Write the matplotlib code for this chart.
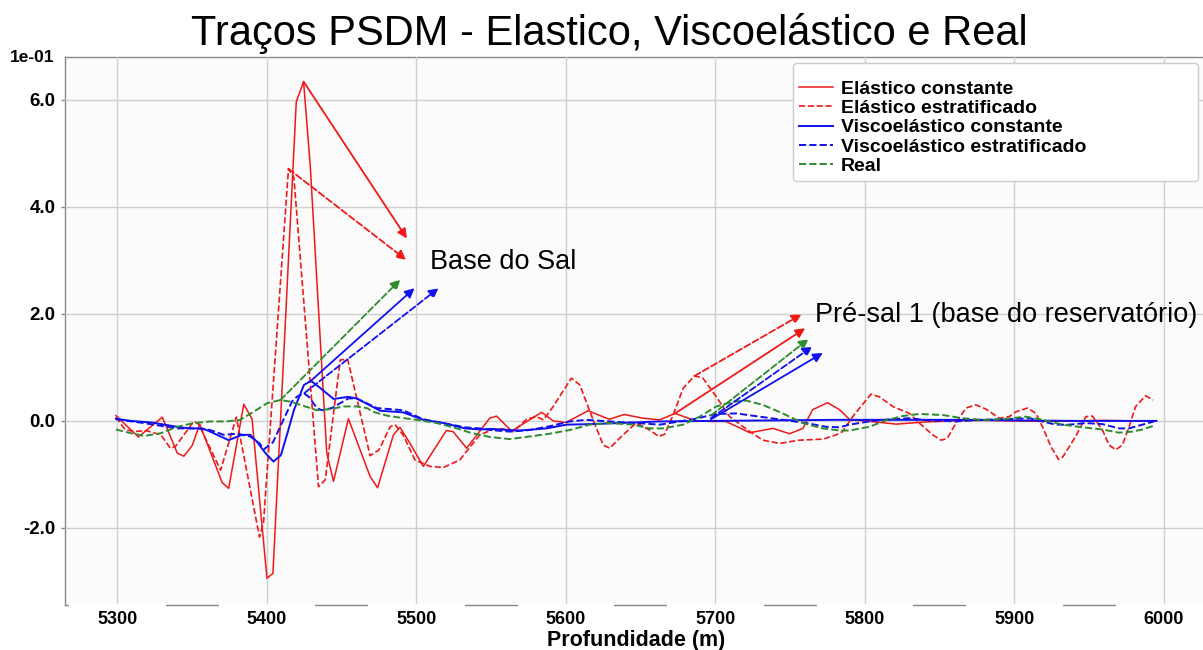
import matplotlib
matplotlib.use("Agg")
import matplotlib.pyplot as plt
from matplotlib.path import Path

plt.rcParams['font.family'] = ['Liberation Sans', 'DejaVu Sans']

# ---- traces (amplitude in units of 1e-01) ----
ec_x = [5299, 5314, 5330, 5340, 5344.4, 5350, 5355, 5370, 5374.4, 5384.5, 5390, 5400, 5404,
        5419.6, 5424.5, 5429, 5440, 5444.5, 5454.5, 5469, 5474, 5484.6, 5489, 5495.7, 5504.6,
        5520, 5524.5, 5533.6, 5549, 5553.6, 5563.6, 5583.7, 5591.5, 5600, 5614.8, 5629, 5639,
        5651.6, 5662.7, 5673, 5687, 5698, 5707, 5723, 5738.5, 5749.6, 5758.5, 5765, 5775, 5783,
        5790, 5800, 5821, 5840, 5860, 5880, 5900, 5920, 5940, 5960, 5980, 5995]
ec_y = [0.10, -0.30, 0.07, -0.60, -0.66, -0.46, -0.06, -1.15, -1.26, 0.31, 0.04, -2.94, -2.85,
        5.96, 6.34, 4.75, -0.60, -1.13, 0.04, -1.04, -1.25, -0.26, -0.12, -0.42, -0.85,
        -0.18, -0.20, -0.51, 0.05, 0.09, -0.19, 0.16, 0.00, -0.03, 0.19, 0.03, 0.12,
        0.05, 0.02, 0.14, 0.00, -0.01, -0.01, -0.22, -0.14, -0.24, -0.14, 0.21, 0.34, 0.21,
        0.02, 0.00, -0.06, -0.02, 0.00, 0.01, 0.00, -0.01, 0.00, 0.01, 0.00, 0.00]

ee_x = [5299, 5305, 5311, 5319, 5329, 5335.4, 5338.7, 5351, 5354.3, 5369, 5379.5, 5393, 5395,
        5397.7, 5414.4, 5418, 5434.5, 5439, 5449, 5454, 5469, 5475, 5482.4, 5485.7, 5491, 5499,
        5509, 5518, 5529, 5536, 5542.5, 5552, 5558, 5565, 5573.6, 5580, 5585, 5591.5, 5603.7,
        5609.3, 5618.2, 5624.9, 5629.3, 5638.2, 5647, 5656, 5662, 5666, 5671.7, 5678.4, 5686,
        5691.6, 5700.6, 5709.5, 5723, 5731.7, 5743, 5756, 5772, 5780.8, 5785, 5791.8, 5804,
        5809.7, 5818.6, 5829.7, 5836.4, 5845.3, 5850.9, 5855, 5860.9, 5867.6, 5874.2, 5881,
        5890, 5896.5, 5901, 5908.8, 5914.4, 5918.8, 5924.4, 5929.5, 5932.2, 5941, 5947.8,
        5952.2, 5958.9, 5963.3, 5967.8, 5972.2, 5976.7, 5981.1, 5987.8, 5992.7]
ee_y = [0.07, -0.16, -0.20, -0.18, -0.26, -0.51, -0.48, -0.01, -0.06, -0.92, 0.07, -1.88, -2.17,
        -1.90, 4.71, 4.55, -1.23, -1.10, 1.14, 1.15, -0.65, -0.54, -0.11, -0.07, -0.26, -0.73,
        -0.85, -0.87, -0.73, -0.48, -0.26, -0.15, -0.15, -0.20, 0.03, 0.08, 0.02, 0.27, 0.80,
        0.67, 0.02, -0.45, -0.51, -0.26, -0.04, -0.17, -0.29, -0.25, 0.11, 0.61, 0.84,
        0.80, 0.45, 0.08, -0.20, -0.36, -0.42, -0.36, -0.34, -0.26, -0.20, 0.08, 0.50,
        0.45, 0.27, 0.14, -0.04, -0.26, -0.36, -0.33, -0.04, 0.24, 0.30, 0.22,
        0.05, 0.08, 0.17, 0.24, 0.14, -0.11, -0.48, -0.72, -0.68, -0.29, 0.08,
        0.09, -0.17, -0.45, -0.54, -0.45, -0.11, 0.27, 0.47, 0.39]

vc_x = [5299, 5309, 5323, 5342, 5349, 5357, 5362, 5374.4, 5383.3, 5388.8, 5393.3, 5398.9, 5404.4,
        5409.3, 5414, 5418, 5424.7, 5429.4, 5434.5, 5444.6, 5454.5, 5460, 5475.7, 5491, 5504.6,
        5518, 5532.5, 5542.5, 5549, 5569, 5587, 5600.4, 5616, 5636, 5662.7, 5700, 5740, 5780,
        5820, 5860, 5900, 5940, 5995]
vc_y = [0.04, 0.00, -0.03, -0.12, -0.14, -0.14, -0.20, -0.36, -0.26, -0.26, -0.39, -0.60, -0.76,
        -0.64, -0.20, 0.20, 0.67, 0.75, 0.64, 0.41, 0.45, 0.42, 0.19, 0.16, 0.02,
        -0.04, -0.14, -0.16, -0.15, -0.18, -0.14, -0.07, -0.06, -0.04, -0.01, 0.00, 0.01, 0.02,
        0.02, 0.02, 0.01, 0.00, 0.00]

ve_x = [5299, 5317.6, 5328.7, 5340, 5353, 5362, 5371, 5380, 5388.8, 5395, 5398, 5404, 5411,
        5416.7, 5420, 5424.5, 5428, 5433.4, 5436.7, 5443.4, 5454.5, 5460, 5473.5, 5491, 5504.6,
        5518, 5532.5, 5542.5, 5549, 5562.5, 5576, 5589, 5602.6, 5613.8, 5629, 5647, 5662.7,
        5669.4, 5685, 5700.6, 5714, 5729.5, 5745, 5760.7, 5774, 5783, 5789.6, 5803, 5816.4,
        5829.7, 5843, 5861, 5876.6, 5892, 5910, 5918.8, 5927.7, 5936.6, 5947.8, 5958.9, 5970,
        5976.7, 5985.6, 5993.4]
ve_y = [0.03, -0.04, -0.09, -0.14, -0.14, -0.17, -0.26, -0.24, -0.29, -0.42, -0.53, -0.40, 0.02,
        0.36, 0.45, 0.52, 0.45, 0.24, 0.20, 0.24, 0.42, 0.42, 0.24, 0.20, 0.03,
        -0.04, -0.12, -0.14, -0.17, -0.20, -0.17, -0.10, -0.01, 0.02, -0.01, -0.04, -0.07,
        -0.04, 0.03, 0.13, 0.14, 0.08, 0.02, -0.04, -0.11, -0.12, -0.07, -0.01, 0.03,
        0.05, 0.01, -0.01, 0.02, 0.03, 0.05, -0.01, -0.07, -0.07, -0.04, -0.06, -0.14,
        -0.14, -0.07, -0.01]

re_x = [5299, 5309, 5318, 5329, 5340, 5351, 5362, 5373, 5382, 5391, 5400, 5409, 5415.6, 5424.5,
        5433.4, 5442.3, 5451.2, 5460, 5466.8, 5471, 5480, 5486.8, 5500, 5513.6, 5527, 5536,
        5549, 5562.5, 5576, 5589, 5602.6, 5616, 5629, 5645, 5656, 5665, 5678.4, 5689.5, 5700.6,
        5711.7, 5720.6, 5731.7, 5745, 5758.5, 5771.8, 5783, 5789.6, 5803, 5814, 5825, 5836.4,
        5852, 5865.3, 5878.7, 5892, 5907.6, 5918.8, 5932.2, 5945.6, 5958.9, 5970, 5979, 5985.6,
        5993.4]
re_y = [-0.16, -0.23, -0.28, -0.23, -0.11, -0.04, -0.01, -0.01, 0.02, 0.17, 0.33, 0.39, 0.36, 0.28,
        0.20, 0.22, 0.27, 0.27, 0.24, 0.17, 0.10, 0.07, 0.02, -0.04, -0.14, -0.22,
        -0.30, -0.34, -0.29, -0.24, -0.17, -0.07, -0.04, -0.07, -0.14, -0.14, -0.07, 0.08, 0.27,
        0.36, 0.38, 0.30, 0.14, -0.04, -0.14, -0.18, -0.18, -0.11, 0.01, 0.09, 0.13,
        0.11, 0.05, 0.02, 0.03, 0.08, 0.02, -0.07, -0.12, -0.16, -0.22, -0.20, -0.16,
        -0.09]

series_labels = ['Elástico constante', 'Elástico estratificado', 'Viscoelástico constante',
                 'Viscoelástico estratificado', 'Real']

x_ticks = [5300, 5400, 5500, 5600, 5700, 5800, 5900, 6000]
x_tick_labels = ['5300', '5400', '5500', '5600', '5700', '5800', '5900', '6000']
y_ticks = [-2.0, 0.0, 2.0, 4.0, 6.0]
y_tick_labels = ['-2.0', '0.0', '2.0', '4.0', '6.0']

# annotation arrows: (start x, start y) -> (tip x, tip y)
sal_arrows = [
    ((5424.5, 6.34), (5493.6, 3.41)),
    ((5414.4, 4.71), (5493.1, 3.01)),
    ((5409.0, 0.39), (5489.2, 2.64)),
    ((5429.4, 0.75), (5498.7, 2.48)),
    ((5425.0, 0.52), (5514.8, 2.48)),
]
presal_arrows = [
    ((5673.0, 0.14), (5760.0, 1.73)),
    ((5686.0, 0.84), (5757.6, 1.99)),
    ((5697.0, 0.10), (5762.3, 1.53)),
    ((5697.0, 0.03), (5771.8, 1.27)),
    ((5697.0, 0.05), (5764.8, 1.39)),
]

RED = '#f01818'
BLUE = '#1010f0'
GREEN = '#2e8b2e'
styles = [(RED, '-', 1.1), (RED, '--', 1.2), (BLUE, '-', 1.4), (BLUE, '--', 1.4), (GREEN, '--', 1.4)]

fig = plt.figure(figsize=(12.03, 6.5), dpi=100)
W, H = 1203.0, 650.0
ax = fig.add_axes([65 / W, 45 / H, (1208 - 65) / W, (605 - 57) / H])
ax.set_facecolor('#fbfbfb')

xs = [ec_x, ee_x, vc_x, ve_x, re_x]
ys = [ec_y, ee_y, vc_y, ve_y, re_y]
for x, y, lab, (c, ls, lw) in zip(xs, ys, series_labels, styles):
    ax.plot(x, y, color=c, ls=ls, lw=lw, label=lab)

arrow_styles = [(RED, '-'), (RED, '--'), (GREEN, '--'), (BLUE, '-'), (BLUE, '--')]
for group in (sal_arrows, presal_arrows):
    for (start, tip), (c, ls) in zip(group, arrow_styles):
        ax.annotate('', xy=tip, xytext=start,
                    arrowprops=dict(arrowstyle='-|>', color=c, lw=1.3, ls=ls,
                                    shrinkA=0, shrinkB=0, mutation_scale=14))

ax.text(5509, 2.97, 'Base do Sal', fontsize=19.5, va='center', ha='left')
ax.text(5766.5, 1.98, 'Pré-sal 1 (base do reservatório)', fontsize=19.5, va='center', ha='left')

ax.set_xlim(5264.9, 6029.5)
ax.set_ylim(-3.44, 6.80)

ax.set_axisbelow(True)
ax.grid(True, color='#cfcfcf', lw=1.0)
for s in ['left', 'bottom', 'top']:
    ax.spines[s].set_color('#888888')
    ax.spines[s].set_linewidth(1.0)
    ax.spines[s].set_zorder(0.4)
ax.spines['right'].set_visible(False)


def wide_box(x0, y0, width, height, mutation_size):
    # white backing that is wider than tall, so the axis line shows only between labels
    px = 1.55 * mutation_size
    py = 0.35 * mutation_size
    x0, y0 = x0 - px, y0 - py
    x1, y1 = x0 + width + 2 * px, y0 + height + 2 * py
    return Path([(x0, y0), (x1, y0), (x1, y1), (x0, y1), (x0, y0)], closed=True)


ax.set_xticks(x_ticks, labels=x_tick_labels)
ax.set_yticks(y_ticks, labels=y_tick_labels)
ax.tick_params(axis='x', length=0, pad=4, labelsize=13)
ax.tick_params(axis='y', length=3, width=1, color='#888888', pad=4, labelsize=13.5)
for t in ax.get_xticklabels():
    t.set_fontweight('bold')
    t.set_bbox(dict(boxstyle=wide_box, facecolor='white', edgecolor='none'))
for t in ax.get_yticklabels():
    t.set_fontweight('bold')

ax.set_xlabel('Profundidade (m)', fontsize=15.5, fontweight='bold', labelpad=2)

fig.text(10 / W, 1 - 58 / H, '1e-01', fontsize=12.5, fontweight='bold', va='center', ha='left')
fig.text(609 / W, 1 - 33 / H, 'Traços PSDM - Elastico, Viscoelástico e Real', fontsize=30,
         ha='center', va='center')

# legend box spans a fixed strip in the upper right corner
leg_left = (793 - 65) / 1143
leg_width = (1198 - 793) / 1143
leg_top = (605 - 63) / 548
leg = ax.legend(loc='upper left', bbox_to_anchor=(leg_left, 0.5, leg_width, leg_top - 0.5),
                mode='expand', prop={'weight': 'bold', 'size': 14},
                title=' ', title_fontsize=7,
                labelspacing=0.08, handlelength=1.75, handletextpad=0.4, borderpad=0.3,
                borderaxespad=0.0, fancybox=True, framealpha=1.0, edgecolor='#cccccc')

fig.savefig('out.png', dpi=100, facecolor='white')
